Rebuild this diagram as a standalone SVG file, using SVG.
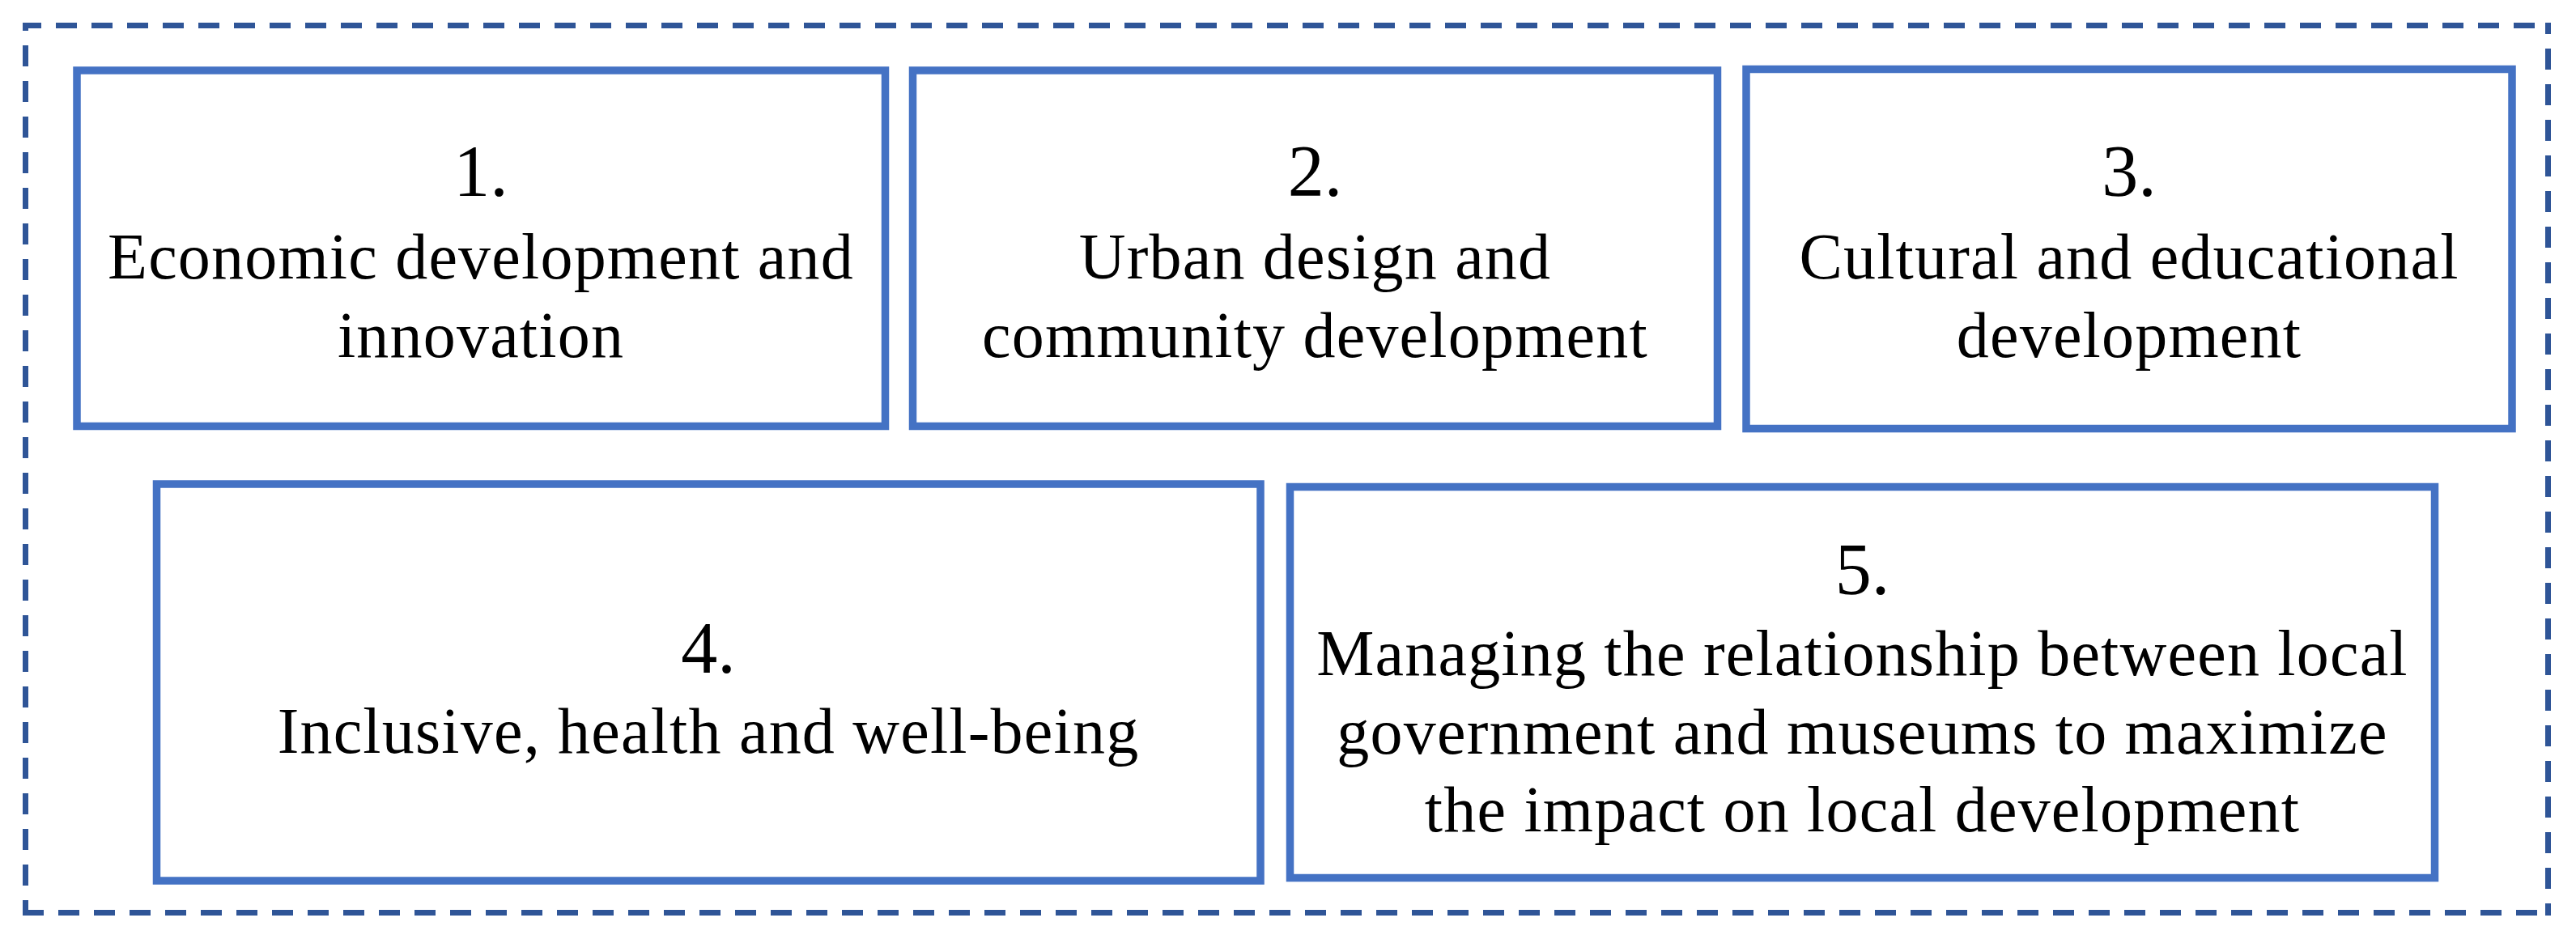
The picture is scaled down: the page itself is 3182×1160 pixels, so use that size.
<svg xmlns="http://www.w3.org/2000/svg" width="3182" height="1160" viewBox="0 0 3182 1160">
<style>
.frame{fill:none;stroke:#2F5597;stroke-width:7;stroke-dasharray:26 18}
.box{fill:#FFFFFF;stroke:#4472C4;stroke-width:9.5}
.num{font-family:"Liberation Serif","Times New Roman",serif;font-size:90px;fill:#000;text-anchor:middle}
.txt{font-family:"Liberation Serif","Times New Roman",serif;font-size:80px;fill:#000;text-anchor:middle;letter-spacing:1.2px}
</style>
<rect x="0" y="0" width="3182" height="1160" fill="#FFFFFF"/>
<g id="frame">
<path class="frame" d="M28,31.5 H3151" stroke-dashoffset="3"/>
<path class="frame" d="M31.5,28 V1131" stroke-dashoffset="16"/>
<path class="frame" d="M3147.5,28 V1131" stroke-dashoffset="12"/>
<path class="frame" d="M28,1127.5 H3151"/>
</g>
<g id="node1">
<rect class="box" x="95" y="87" width="998.5" height="439.5"/>
<text class="num" x="594" y="242">1.</text>
<text class="txt" x="594" y="344">Economic development and</text>
<text class="txt" x="594" y="441">innovation</text>
</g>
<g id="node2">
<rect class="box" x="1127.5" y="87" width="994" height="439.5"/>
<text class="num" x="1624.5" y="242">2.</text>
<text class="txt" x="1624.5" y="344">Urban design and</text>
<text class="txt" x="1624.5" y="441">community development</text>
</g>
<g id="node3">
<rect class="box" x="2157" y="85.5" width="946" height="444"/>
<text class="num" x="2630" y="242">3.</text>
<text class="txt" x="2630" y="344">Cultural and educational</text>
<text class="txt" x="2630" y="441">development</text>
</g>
<g id="node4">
<rect class="box" x="193.5" y="598" width="1363.5" height="490"/>
<text class="num" x="875" y="831">4.</text>
<text class="txt" x="875" y="930">Inclusive, health and well-being</text>
</g>
<g id="node5">
<rect class="box" x="1593.5" y="601.5" width="1414" height="483"/>
<text class="num" x="2300.5" y="734">5.</text>
<text class="txt" x="2300.5" y="834">Managing the relationship between local</text>
<text class="txt" x="2300.5" y="931">government and museums to maximize</text>
<text class="txt" x="2300.5" y="1027">the impact on local development</text>
</g>
<g id="connectors"></g>
</svg>
